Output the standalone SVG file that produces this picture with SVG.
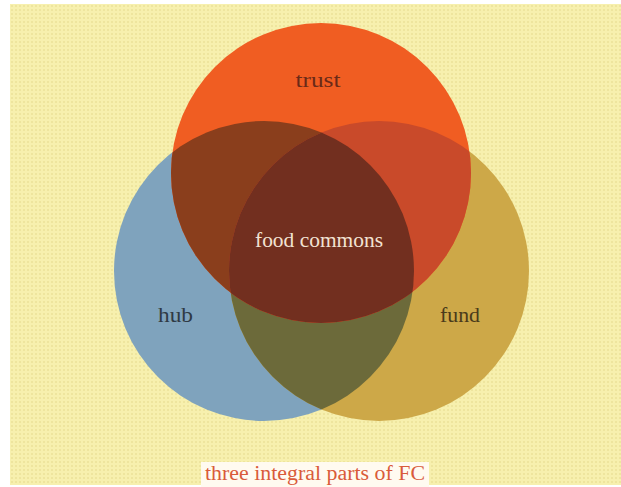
<svg xmlns="http://www.w3.org/2000/svg" width="621" height="487" viewBox="0 0 621 487">
  <style>
    .lbl { font-family: "Liberation Serif", "DejaVu Serif", serif; text-anchor: middle; }
  </style>
  <defs>
    <pattern id="dots" x="10" y="4" width="4" height="4" patternUnits="userSpaceOnUse">
      <rect width="4" height="4" fill="#F7F0AE"/>
      <rect x="1" y="1" width="2" height="2" fill="#EEE59E"/>
    </pattern>
    <clipPath id="cHub"><circle cx="264" cy="271" r="150"/></clipPath>
    <clipPath id="cFund"><circle cx="379" cy="271" r="150"/></clipPath>
  </defs>

  <rect x="0" y="0" width="621" height="487" fill="#FFFFFF"/>
  <rect x="10" y="4" width="611" height="481" fill="url(#dots)"/>

  <g id="hub">
    <circle cx="264" cy="271" r="150" fill="#7FA3BD"/>
  </g>
  <g id="fund">
    <circle cx="379" cy="271" r="150" fill="#CDA848"/>
    <circle cx="379" cy="271" r="150" fill="#6C6A3A" clip-path="url(#cHub)"/>
  </g>
  <g id="trust">
    <circle cx="321" cy="173" r="150" fill="#F05D22"/>
    <circle cx="321" cy="173" r="150" fill="#8A3E1C" clip-path="url(#cHub)"/>
    <circle cx="321" cy="173" r="150" fill="#C94A2A" clip-path="url(#cFund)"/>
  </g>
  <g id="food-commons">
    <g clip-path="url(#cHub)">
      <circle cx="321" cy="173" r="150" fill="#722F1F" clip-path="url(#cFund)"/>
    </g>
  </g>

  <g id="labels">
    <text class="lbl" x="318" y="87" font-size="20" fill="#6A2A18" textLength="45" lengthAdjust="spacingAndGlyphs">trust</text>
    <text class="lbl" x="319" y="247" font-size="21" fill="#F3E3D3" textLength="128" lengthAdjust="spacingAndGlyphs">food commons</text>
    <text class="lbl" x="175.5" y="322" font-size="21" fill="#2F3A44" textLength="35" lengthAdjust="spacingAndGlyphs">hub</text>
    <text class="lbl" x="460" y="322" font-size="21" fill="#4A3A1A" textLength="40" lengthAdjust="spacingAndGlyphs">fund</text>
  </g>

  <g id="caption">
    <rect x="201" y="462" width="228" height="25" fill="#FFFAF0"/>
    <text class="lbl" x="315" y="480" font-size="20" fill="#D95B3A" textLength="220" lengthAdjust="spacingAndGlyphs">three integral parts of FC</text>
  </g>
</svg>
